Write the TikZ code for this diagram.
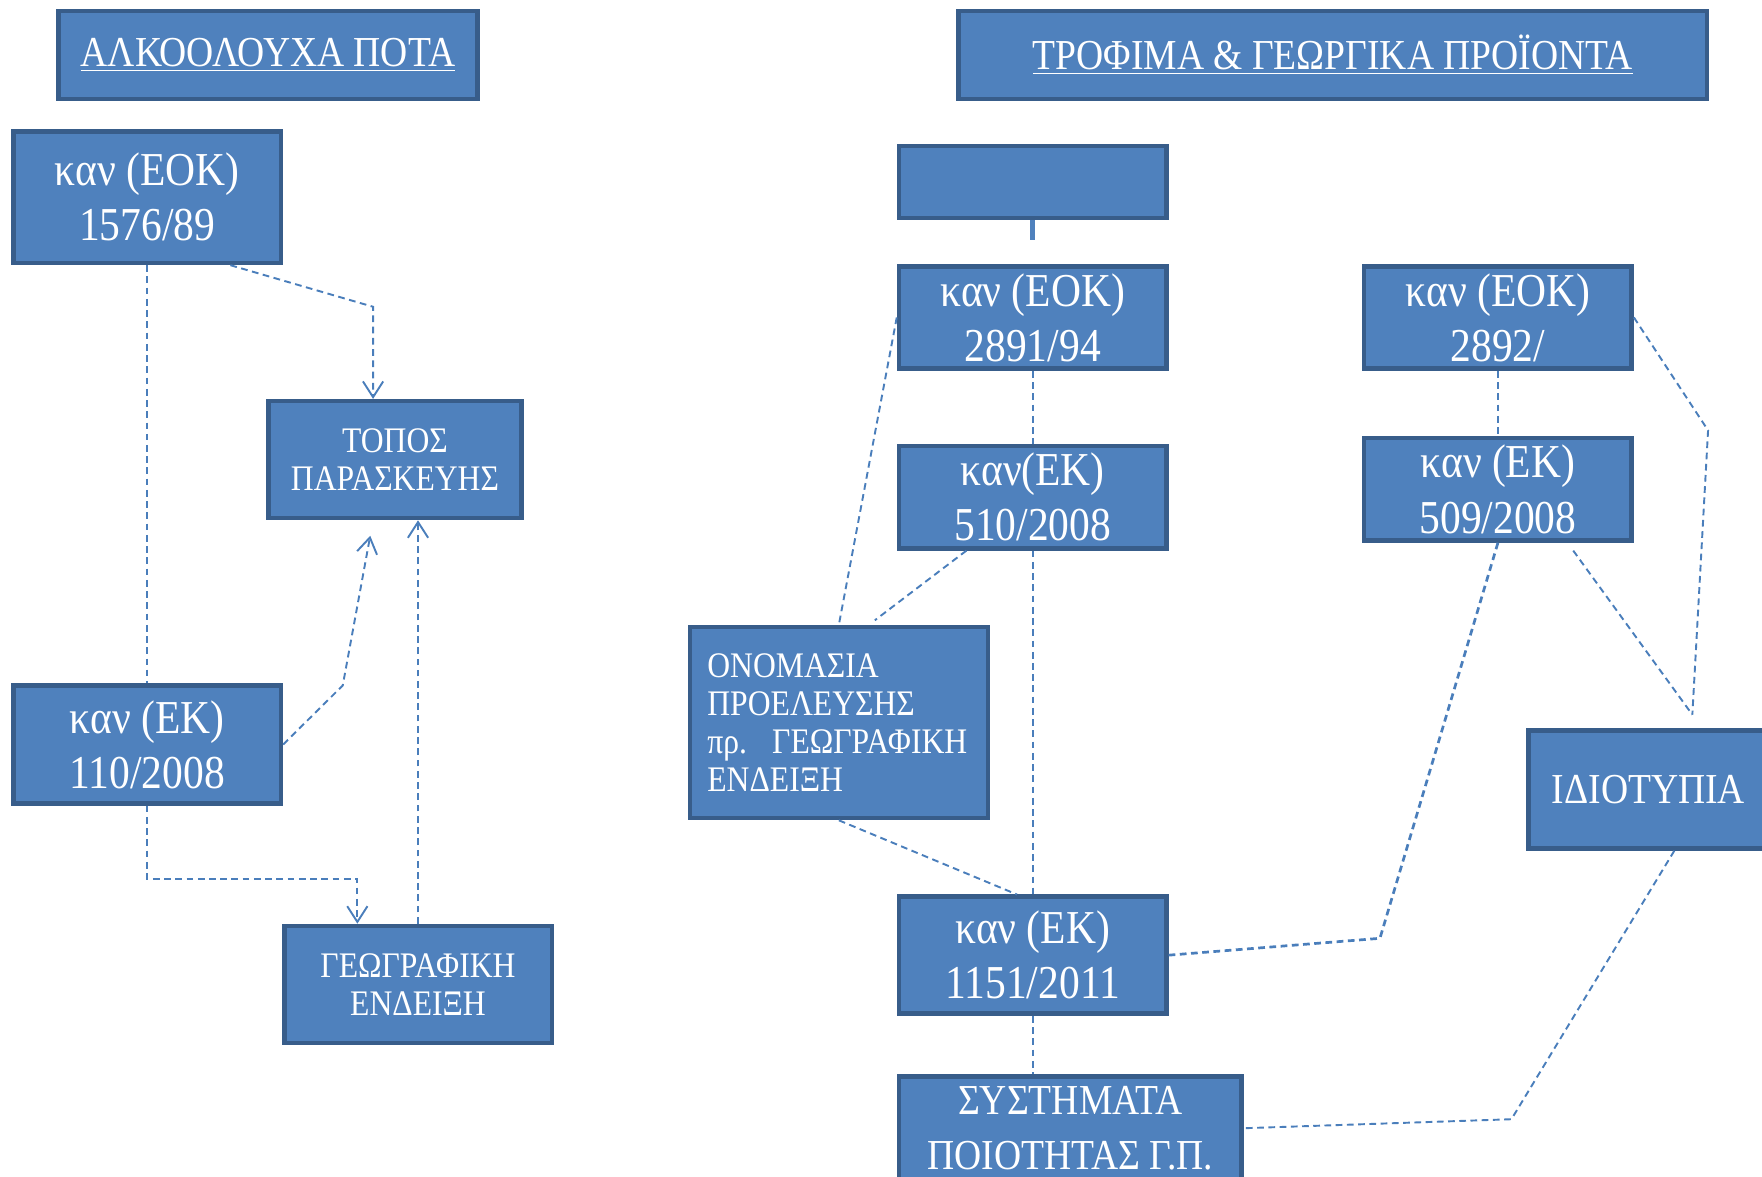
\documentclass[tikz,border=0pt]{standalone}
\usepackage{fontspec}
\setmainfont{Liberation Serif}[FakeStretch=0.88]
\usetikzlibrary{positioning,calc,arrows.meta}

\definecolor{boxfill}{HTML}{4F81BD}
\definecolor{boxline}{HTML}{385D8A}
\definecolor{linkblue}{HTML}{4A7EBB}

\tikzset{
  box/.style={draw=boxline, fill=boxfill, line width=2pt, text=white,
    inner sep=0pt, align=center},
  headbox/.style={box, minimum height=39pt, font=\fontsize{19}{22}\selectfont},
  kanbox/.style={box, minimum width=119pt, font=\fontsize{21}{24.5}\selectfont},
  smallbox/.style={box, font=\fontsize{16}{17}\selectfont},
  link/.style={draw=linkblue, line width=0.85pt, dash pattern=on 3pt off 2pt},
  arr/.style={-{Straight Barb[length=7pt,width=9pt,line width=0.85pt]}},
}

\begin{document}
\begin{tikzpicture}[x=0.5pt,y=-0.5pt]
  \useasboundingbox (0,0) rectangle (1568,1047);
  \clip (0,0) rectangle (1568,1047);

  % titles
  \node[headbox, minimum width=186.5pt] (alcohol) at (238.5,49) {\underline{ΑΛΚΟΟΛΟΥΧΑ ΠΟΤΑ}};
  \node[headbox, minimum width=333pt] (food) at (1186,49) {\underline{ΤΡΟΦΙΜΑ \& ΓΕΩΡΓΙΚΑ ΠΡΟΪΟΝΤΑ}};

  % left column
  \node[kanbox, minimum height=58.5pt] (kan1576) at (131,175.5) {καν (ΕΟΚ)\\1576/89};
  \node[smallbox, minimum width=112.5pt, minimum height=52pt] (topos) at (351.5,409) {ΤΟΠΟΣ\\ΠΑΡΑΣΚΕΥΗΣ};
  \node[kanbox, minimum height=52.5pt] (kan110) at (131,662.5) {καν (ΕΚ)\\110/2008};
  \node[smallbox, minimum width=119pt, minimum height=52pt] (geo) at (372,876) {ΓΕΩΓΡΑΦΙΚΗ\\ΕΝΔΕΙΞΗ};

  % right part
  \node[kanbox, minimum height=32pt] (blank) at (919,162) {};
  \node[kanbox, minimum height=45.5pt] (kan2891) at (919,282.5) {καν (ΕΟΚ)\\2891/94};
  \node[kanbox, minimum height=45.5pt] (kan510) at (919,442.5) {καν(ΕΚ)\\510/2008};
  \node[kanbox, minimum height=45.5pt] (kan2892) at (1333,282.5) {καν (ΕΟΚ)\\2892/};
  \node[kanbox, minimum height=45.5pt] (kan509) at (1333,435.5) {καν (ΕΚ)\\509/2008};
  \node[smallbox, minimum width=132.5pt, minimum height=85pt, text width=117pt, align=left]
    (onoma) at (746.5,643) {ΟΝΟΜΑΣΙΑ\\ΠΡΟΕΛΕΥΣΗΣ\\\mbox{πρ.\hspace{0.7em}ΓΕΩΓΡΑΦΙΚΗ}\\ΕΝΔΕΙΞΗ};
  \node[box, minimum width=107pt, minimum height=52.5pt, font=\fontsize{19}{22}\selectfont]
    (idio) at (1467,702.5) {ΙΔΙΟΤΥΠΙΑ};
  \node[kanbox, minimum height=52pt] (kan1151) at (919,850) {καν (ΕΚ)\\1151/2011};
  \node[box, minimum width=152.5pt, minimum height=46pt, font=\fontsize{19}{24.5}\selectfont]
    (systems) at (952.5,1004) {ΣΥΣΤΗΜΑΤΑ\\ΠΟΙΟΤΗΤΑΣ Γ.Π.};

  \coordinate (k1) at (332,273);
  \coordinate (k2) at (305,610);
  \coordinate (g1) at (318,782);
  \coordinate (r1) at (1228,835);
  \coordinate (r2) at (1520,383);
  \coordinate (r3) at (1506,636);
  \coordinate (r4) at (1345,996);

  % left links
  \draw[link] (kan1576.south) -- (kan110.north);
  \draw[link,arr] ($(kan1576.south)+(74,0)$) -- (k1) -- (k1 |- topos.north);
  \draw[link,arr,shorten >=7pt] (kan110.east) -- (k2) -- (k1 |- topos.south);
  \draw[link,arr] (kan110.south) |- (g1) -- (g1 |- geo.north);
  \draw[link,arr] (geo.north) -- (geo.north |- topos.south);

  % right links
  \draw[draw=boxfill, line width=2pt] (blank.south) -- ++(0,18);
  \draw[link] (kan2891.south) -- (kan510.north);
  \draw[link] (kan510.south) -- (kan1151.north);
  \draw[link] (kan2891.west) -- (onoma.north);
  \draw[link] ($(kan510.south)+(-59,0)$) -- ($(onoma.north)+(32,-4)$);
  \draw[link] (onoma.south) -- ($(kan1151.north)+(-14,0)$);
  \draw[link] (kan2892.south) -- (kan509.north);
  \draw[link, line width=1.2pt] (kan509.south) -- (r1) -- (kan1151.east);
  \draw[link] ($(kan509.south)+(67,7)$) -- (r3);
  \draw[link] (kan2892.east) -- (r2) -- (r3);
  \draw[link] ($(idio.south)+(23,0)$) -- (r4) -- (systems.east);
  \draw[link] (kan1151.south) -- (kan1151.south |- systems.north);
\end{tikzpicture}
\end{document}
